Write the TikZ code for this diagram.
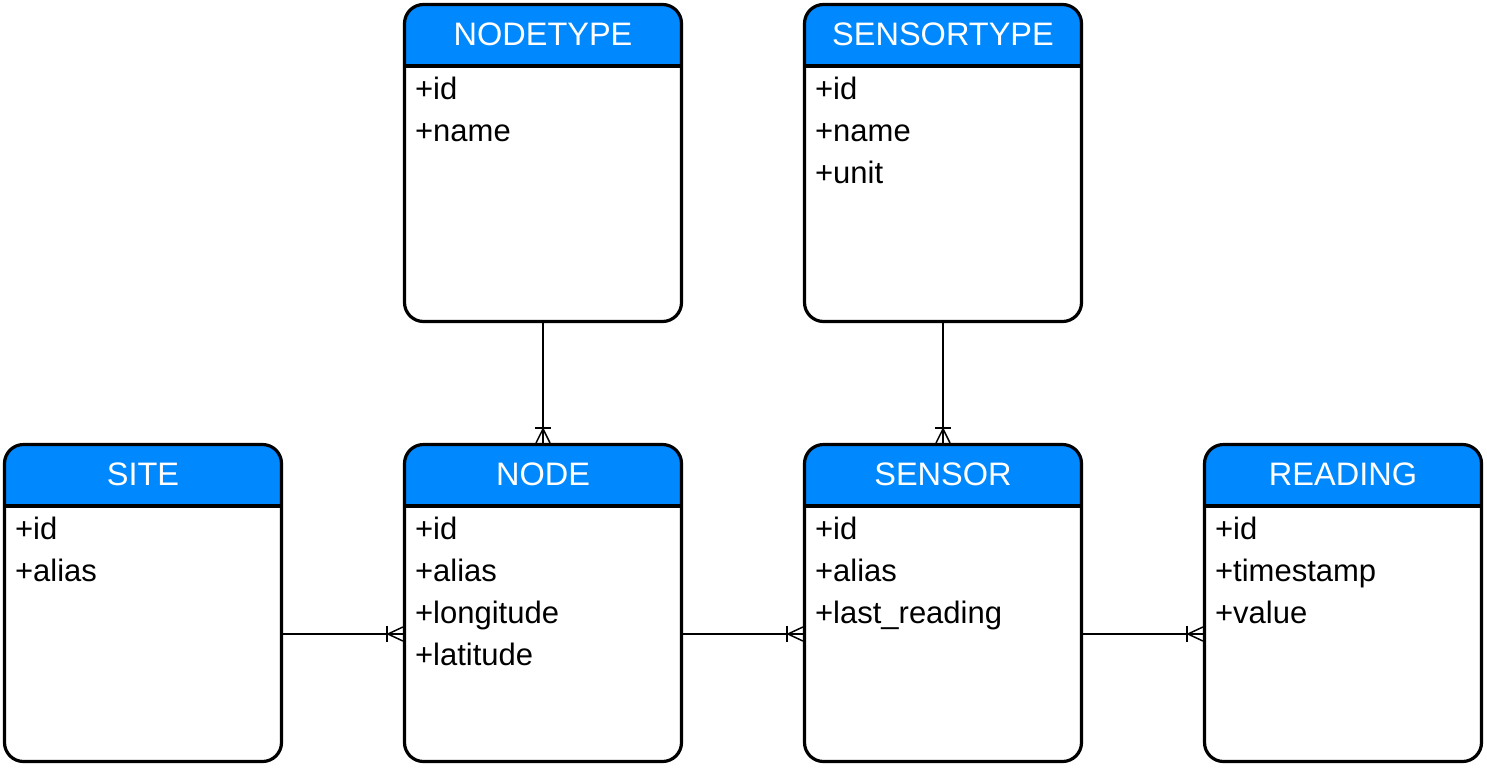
\documentclass[tikz,border=0pt]{standalone}
\usepackage{fontspec}
\setmainfont{Liberation Sans}
\usetikzlibrary{calc}
\definecolor{hdr}{RGB}{0,136,255}
\tikzset{
  entity/.style={draw, line width=3.2pt, rounded corners=19pt, minimum width=277pt,
    minimum height=317pt, inner sep=0pt, fill=white,
    path picture={
      \fill[hdr, sharp corners] (path picture bounding box.north west) rectangle
        ([yshift=-61.5pt]path picture bounding box.north east);
      \draw[line width=3.2pt, sharp corners] ([yshift=-61.5pt]path picture bounding box.north west) --
        ([yshift=-61.5pt]path picture bounding box.north east);}},
  etitle/.style={anchor=base, text=white, font=\fontsize{32.5}{38}\selectfont, inner sep=0pt},
  attr/.style={anchor=base west, font=\fontsize{31}{37}\selectfont, inner sep=0pt},
  conn/.style={line width=1.5pt, line cap=butt},
}
\newcommand\entity[5]{%
  \node[entity] (#1) at (#2,#3) {};
  \node[etitle] (#1-t) at ($(#1.north)+(0,43)$) {#4};
  \foreach \a [count=\i] in {#5} {
    \node[attr] (#1-a\i) at ($(#1.north west)+(12,{97+42*(\i-1)})$) {\a};
  }%
}
\newcommand\crowV[1]{%
  \draw[conn] ($(#1)+(-8,-15)$) -- ($(#1)+(8,-15)$);
  \draw[conn] ($(#1)+(-7,0)$) -- ($(#1)+(0,-14)$) -- ($(#1)+(7,0)$);
}
\newcommand\crowH[1]{%
  \draw[conn] ($(#1)+(-16,-8)$) -- ($(#1)+(-16,8)$);
  \draw[conn] ($(#1)+(0,-7)$) -- ($(#1)+(-15,0)$) -- ($(#1)+(0,7)$);
}
\begin{document}
\begin{tikzpicture}[x=1pt, y=-1pt]
\useasboundingbox (0,0) rectangle (1487,769);
\entity{nodetype}{543}{163}{NODETYPE}{+id,+name}
\entity{sensortype}{943}{163}{SENSORTYPE}{+id,+name,+unit}
\entity{site}{143}{603}{SITE}{+id,+alias}
\entity{node}{543}{603}{NODE}{+id,+alias,+longitude,+latitude}
\entity{sensor}{943}{603}{SENSOR}{+id,+alias,+last\_reading}
\entity{reading}{1343}{603}{READING}{+id,+timestamp,+value}
% vertical connectors
\draw[conn] (nodetype.south) -- (node.north);
\crowV{node.north}
\draw[conn] (sensortype.south) -- (sensor.north);
\crowV{sensor.north}
% horizontal connectors
\coordinate (c1s) at ([yshift=-31pt]site.east);
\coordinate (c1e) at ([yshift=-31pt]node.west);
\coordinate (c2s) at ([yshift=-31pt]node.east);
\coordinate (c2e) at ([yshift=-31pt]sensor.west);
\coordinate (c3s) at ([yshift=-31pt]sensor.east);
\coordinate (c3e) at ([yshift=-31pt]reading.west);
\draw[conn] (c1s) -- (c1e); \crowH{c1e}
\draw[conn] (c2s) -- (c2e); \crowH{c2e}
\draw[conn] (c3s) -- (c3e); \crowH{c3e}
\end{tikzpicture}
\end{document}
